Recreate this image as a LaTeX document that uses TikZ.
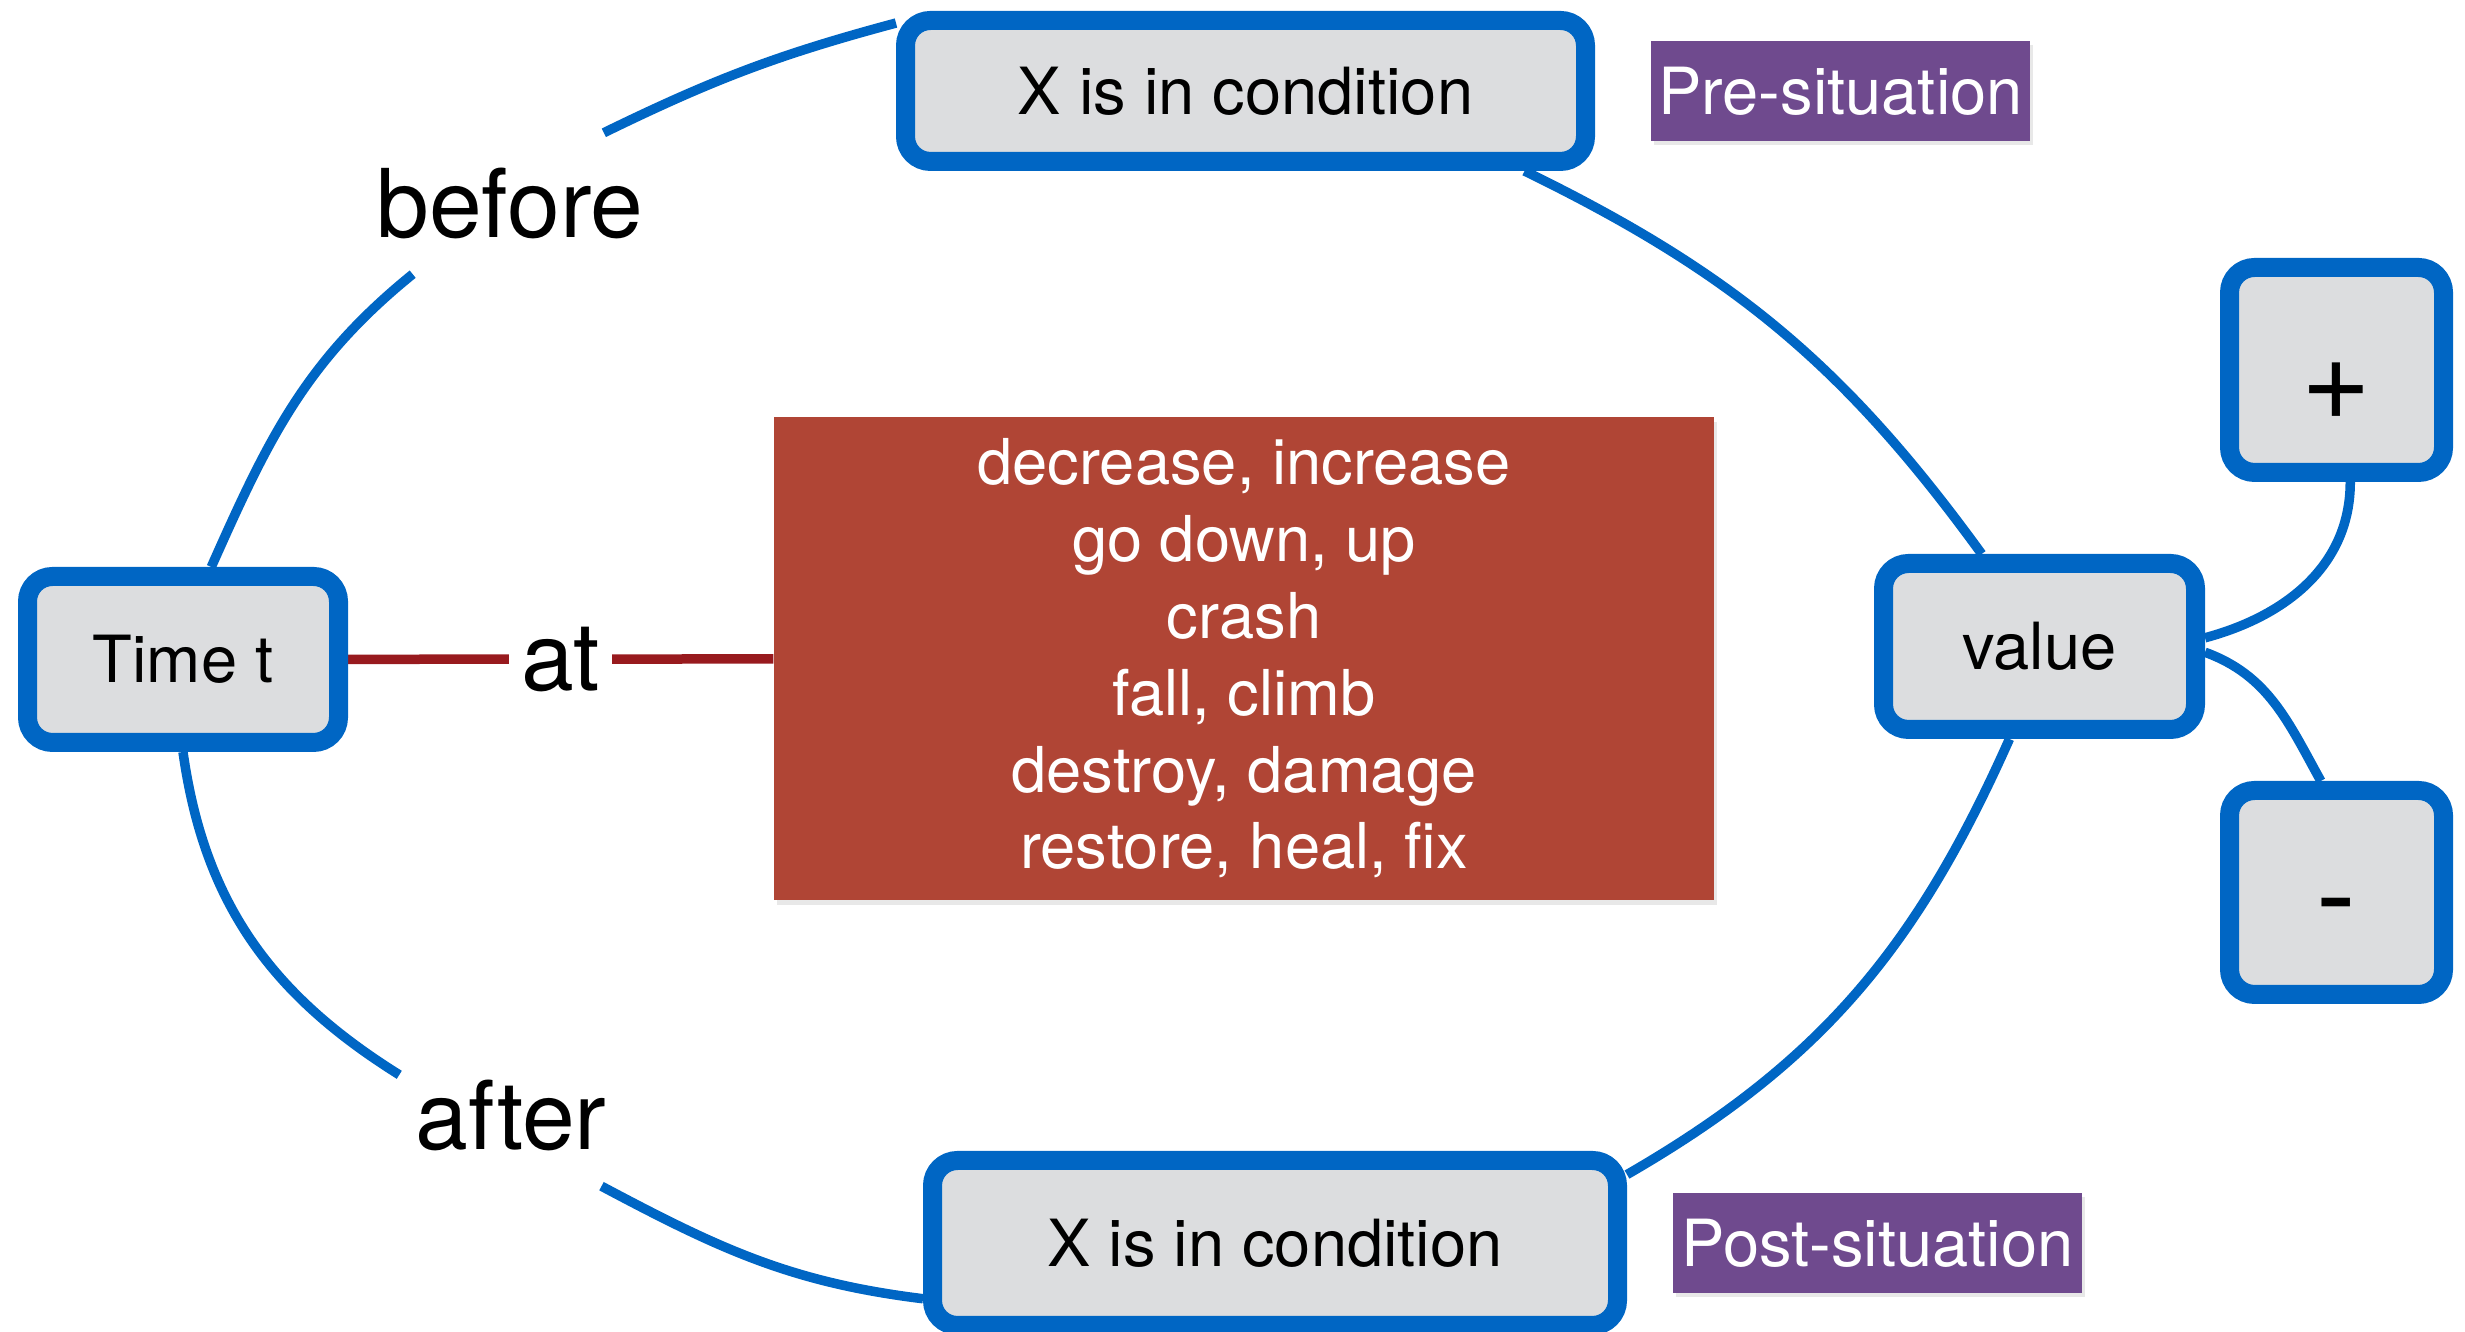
\documentclass[tikz,border=0pt]{standalone}
\usepackage{fontspec}
\setmainfont{TeX Gyre Heros}
\usetikzlibrary{backgrounds,shadows}

\definecolor{kblue}{RGB}{0,102,196}
\definecolor{kgrey}{RGB}{220,221,223}
\definecolor{kred}{RGB}{176,69,53}
\definecolor{kline}{RGB}{152,26,30}
\definecolor{kpurple}{RGB}{111,74,142}

\newcommand{\boxfont}{\fontsize{18.5}{22}\selectfont}
\newcommand{\bigfont}{\fontsize{27}{32}\selectfont}
\newcommand{\signfont}{\fontsize{34}{40}\selectfont}
\newcommand{\listfont}{\fontsize{18}{21.85}\selectfont}

\begin{document}
\begin{tikzpicture}[x=1cm, y=1cm,
    cond/.style={draw=kblue, line width=0.19cm, fill=kgrey, rounded corners=0.25cm,
      font=\boxfont, inner sep=0pt,
      drop shadow={opacity=0.18, shadow xshift=0.03cm, shadow yshift=-0.05cm}},
    tag/.style={fill=kpurple, text=white, font=\boxfont, minimum height=1cm, inner sep=0pt,
      drop shadow={opacity=0.18, shadow xshift=0.03cm, shadow yshift=-0.04cm}},
    word/.style={font=\bigfont, inner sep=0pt, minimum width=2.22cm, minimum height=1.4cm},
    link/.style={draw=kblue, line width=0.095cm},
  ]
      \useasboundingbox (0,0) rectangle (24.65,13.32);
      %
      \node[cond, minimum width=6.80cm, minimum height=1.41cm] (pre) at (12.455,12.41) {X is in condition};   % pre-situation
      \node[cond, minimum width=6.85cm, minimum height=1.65cm] (post) at (12.75,0.89) {X is in condition};    % post-situation
      \node[cond, minimum width=3.11cm, minimum height=1.66cm] (timet) at (1.83,6.725) {Time t};
      \node[cond, minimum width=3.12cm, minimum height=1.66cm] (value) at (20.395,6.855) {value};
      \node[cond, minimum width=2.14cm, minimum height=2.05cm, font=\signfont,
            text height=1.0cm, text depth=0cm] (plus) at (23.365,9.62) {+};
      \node[cond, minimum width=2.14cm, minimum height=2.04cm, font=\signfont,
            text height=0.86cm, text depth=0cm] (minus) at (23.365,4.395) {-};
      %
      \node[tag, minimum width=3.79cm] (pretag) at (18.405,12.41) {Pre-situation};
      \node[tag, minimum width=4.09cm] (posttag) at (18.775,0.89) {Post-situation};
      %
      \node[fill=kred, text=white, font=\listfont, align=center, inner sep=0pt,
            minimum width=9.40cm, minimum height=4.83cm,
            drop shadow={opacity=0.18, shadow xshift=0.03cm, shadow yshift=-0.05cm}] (verbs) at (12.44,6.735)
        {decrease, increase\\ go down, up\\ crash\\ fall, climb\\ destroy, damage\\ restore, heal, fix};
      %
      \node[word] (before) at (5.10,11.285) {before};
      \node[word] (after) at (5.11,2.165) {after};
      %
      \begin{scope}[on background layer]
        \draw[kline, line width=0.095cm] (timet) -- node[fill=white, text=black, font=\bigfont, inner xsep=0.12cm, inner ysep=0pt] (at) {at} (verbs);
        %
        \draw[link] (timet.73) to[out=66, in=219] (before.216);    % before
        \draw[link] (before.37) to[out=26, in=195] (pre.169);
        %
        \draw[link] (timet.south) to[out=-82, in=148] (after.160); % after
        \draw[link] (after.-38) to[out=-28, in=173] (post.189);
        %
        \draw[link] (pre.-16) to[out=-26, in=126] (value.122);     % value
        \draw[link] (value.252) to[out=-114, in=30] (post.11);
        %
        \draw[link] (value.3) to[out=15, in=-90] (plus.-83);       % plus, minus
        \draw[link] (value.-2) to[out=-20, in=119] (minus.98);
      \end{scope}
\end{tikzpicture}
\end{document}
